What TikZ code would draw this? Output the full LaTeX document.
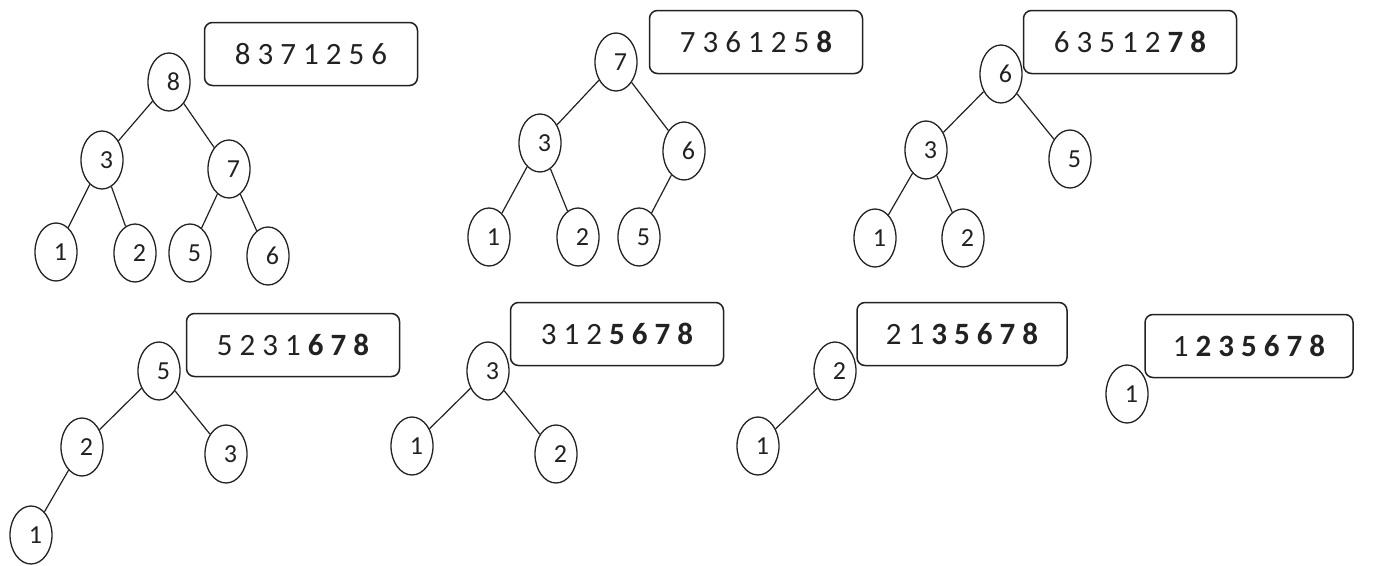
\documentclass[tikz,border=0pt]{standalone}
\usepackage{fontspec}
\setmainfont{Carlito}
\usetikzlibrary{shapes.geometric}
\definecolor{ink}{HTML}{222222}
\tikzset{
  hn/.style={ellipse, draw=ink, line width=1.3pt, minimum width=42pt, minimum height=58pt, inner sep=0pt, text=ink,
    font=\fontsize{26}{26}\selectfont, execute at begin node=\hspace*{9pt}},
  bx/.style={rounded corners=8pt, draw=ink, line width=1.5pt, minimum width=213pt, minimum height=63pt, inner sep=0pt, text=ink,
    font=\fontsize{31}{31}\selectfont},
  ed/.style={draw=ink, line width=1.2pt}
}
\begin{document}
\begin{tikzpicture}[x=1pt,y=-1pt]
\useasboundingbox (0,0) rectangle (1376,565);
\fill[white] (0,0) rectangle (1376,565);
% Tree 1
\node[bx] (b1) at (311,54) {8 3 7 1 2 5 6};
\node[hn] (t1a) at (169,82) {8};
\node[hn] (t1b) at (102,160) {3};
\node[hn] (t1c) at (229,169) {7};
\node[hn] (t1d) at (56,252) {1};
\node[hn] (t1e) at (135,253) {2};
\node[hn] (t1f) at (190,253) {5};
\node[hn] (t1g) at (268,256) {6};
\draw[ed] (t1a) -- (t1b); \draw[ed] (t1a) -- (t1c);
\draw[ed] (t1b) -- (t1d); \draw[ed] (t1b) -- (t1e);
\draw[ed] (t1c) -- (t1f); \draw[ed] (t1c) -- (t1g);
% Tree 2
\node[bx] (b2) at (756,42) {7 3 6 1 2 5 {\bfseries 8}};
\node[hn] (t2a) at (616,62) {7};
\node[hn] (t2b) at (540,143) {3};
\node[hn] (t2c) at (684,151) {6};
\node[hn] (t2d) at (489,237) {1};
\node[hn] (t2e) at (578,237) {2};
\node[hn] (t2f) at (639,237) {5};
\draw[ed] (t2a) -- (t2b); \draw[ed] (t2a) -- (t2c);
\draw[ed] (t2b) -- (t2d); \draw[ed] (t2b) -- (t2e);
\draw[ed] (t2c) -- (t2f);
% Tree 3
\node[bx] (b3) at (1130,42) {6 3 5 1 2 {\bfseries 7 8}};
\node[hn] (t3a) at (1001,74) {6};
\node[hn] (t3b) at (926,150) {3};
\node[hn] (t3c) at (1070,159) {5};
\node[hn] (t3d) at (875,238) {1};
\node[hn] (t3e) at (963,238) {2};
\draw[ed] (t3a) -- (t3b); \draw[ed] (t3a) -- (t3c);
\draw[ed] (t3b) -- (t3d); \draw[ed] (t3b) -- (t3e);
% Tree 4
\node[bx] (b4) at (293,345) {5 2 3 1 {\bfseries 6 7 8}};
\node[hn] (t4a) at (159,371) {5};
\node[hn] (t4b) at (82,447) {2};
\node[hn] (t4c) at (226,454) {3};
\node[hn] (t4d) at (31,535) {1};
\draw[ed] (t4a) -- (t4b); \draw[ed] (t4a) -- (t4c);
\draw[ed] (t4b) -- (t4d);
% Tree 5
\node[bx] (b5) at (617,334) {3 1 2 {\bfseries 5 6 7 8}};
\node[hn] (t5a) at (488,371) {3};
\node[hn] (t5b) at (412,446) {1};
\node[hn] (t5c) at (556,454) {2};
\draw[ed] (t5a) -- (t5b); \draw[ed] (t5a) -- (t5c);
% Tree 6
\node[bx, minimum width=210pt] (b6) at (962,334) {2 1 {\bfseries 3 5 6 7 8}};
\node[hn] (t6a) at (835,371) {2};
\node[hn] (t6b) at (758,446) {1};
\draw[ed] (t6a) -- (t6b);
% Tree 7
\node[bx, minimum width=208pt] (b7) at (1249,346) {1 {\bfseries 2 3 5 6 7 8}};
\node[hn] (t7a) at (1127,394) {1};
\end{tikzpicture}
\end{document}
